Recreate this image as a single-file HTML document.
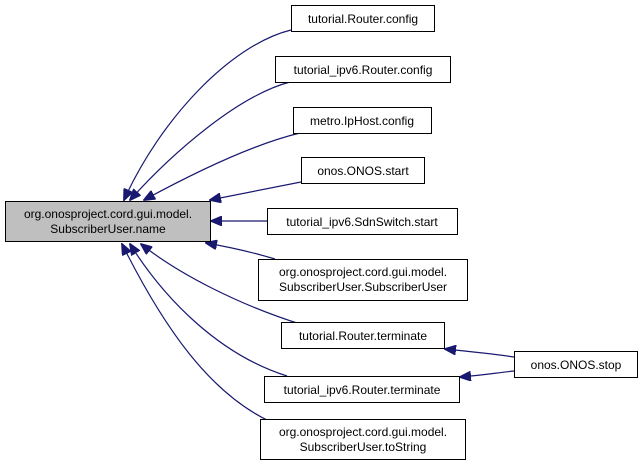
<!DOCTYPE html>
<html><head><meta charset="utf-8"><style>
html,body{margin:0;padding:0;background:#fff;}
svg{display:block;}
text{font-family:"Liberation Sans",sans-serif;font-size:12px;fill:#000;}
</style></head><body>
<svg width="643" height="473" viewBox="0 0 643 473" xmlns="http://www.w3.org/2000/svg">
<defs>
<marker id="a" markerWidth="12" markerHeight="10" refX="11" refY="5" orient="auto" markerUnits="userSpaceOnUse">
<path d="M0,0 L12,5 L0,10 Z" fill="#191970" stroke="#191970"/>
</marker>
</defs>
<g fill="none" stroke="#191970" stroke-width="1.2">
<path d="M291,30 C230,45 160,120 124,200" marker-end="url(#a)"/>
<path d="M290,82 C240,95 175,150 130,200" marker-end="url(#a)"/>
<path d="M300,133 C250,145 190,175 144,200" marker-end="url(#a)"/>
<path d="M301,182 C270,188 240,194 210,200" marker-end="url(#a)"/>
<path d="M267,221 L211,221" marker-end="url(#a)"/>
<path d="M275,259 C255,253 235,248 206,243" marker-end="url(#a)"/>
<path d="M300,324 C240,305 180,275 141,244" marker-end="url(#a)"/>
<path d="M287,376 C220,355 165,300 130,244" marker-end="url(#a)"/>
<path d="M283,427 C210,400 160,320 122,244" marker-end="url(#a)"/>
<path d="M514,357 C495,354 475,352 445,349" marker-end="url(#a)"/>
<path d="M514,371 C495,373 485,375 460,377" marker-end="url(#a)"/>
</g>
<g stroke="#000" stroke-width="1">
<rect x="5.5" y="201.5" width="205" height="40" fill="#bfbfbf"/>
<rect x="291.5" y="5.5" width="143" height="26" fill="#fff"/>
<rect x="275.5" y="56.5" width="175" height="26" fill="#fff"/>
<rect x="293.5" y="107.5" width="138" height="26" fill="#fff"/>
<rect x="301.5" y="157.5" width="123" height="26" fill="#fff"/>
<rect x="267.5" y="208.5" width="190" height="26" fill="#fff"/>
<rect x="258.5" y="259.5" width="209" height="41" fill="#fff"/>
<rect x="281.5" y="322.5" width="163" height="26" fill="#fff"/>
<rect x="264.5" y="376.5" width="195" height="26" fill="#fff"/>
<rect x="260.5" y="419.5" width="205" height="40" fill="#fff"/>
<rect x="514.5" y="351.5" width="123" height="26" fill="#fff"/>
</g>
<g text-anchor="middle">
<text x="108" y="218">org.onosproject.cord.gui.model.</text>
<text x="108" y="233">SubscriberUser.name</text>
<text x="363" y="23">tutorial.Router.config</text>
<text x="363" y="74">tutorial_ipv6.Router.config</text>
<text x="362" y="125">metro.IpHost.config</text>
<text x="363" y="175">onos.ONOS.start</text>
<text x="362" y="226">tutorial_ipv6.SdnSwitch.start</text>
<text x="363" y="276">org.onosproject.cord.gui.model.</text>
<text x="363" y="291">SubscriberUser.SubscriberUser</text>
<text x="363" y="340">tutorial.Router.terminate</text>
<text x="362" y="394">tutorial_ipv6.Router.terminate</text>
<text x="363" y="436">org.onosproject.cord.gui.model.</text>
<text x="363" y="451">SubscriberUser.toString</text>
<text x="576" y="369">onos.ONOS.stop</text>
</g>
</svg>
</body></html>
